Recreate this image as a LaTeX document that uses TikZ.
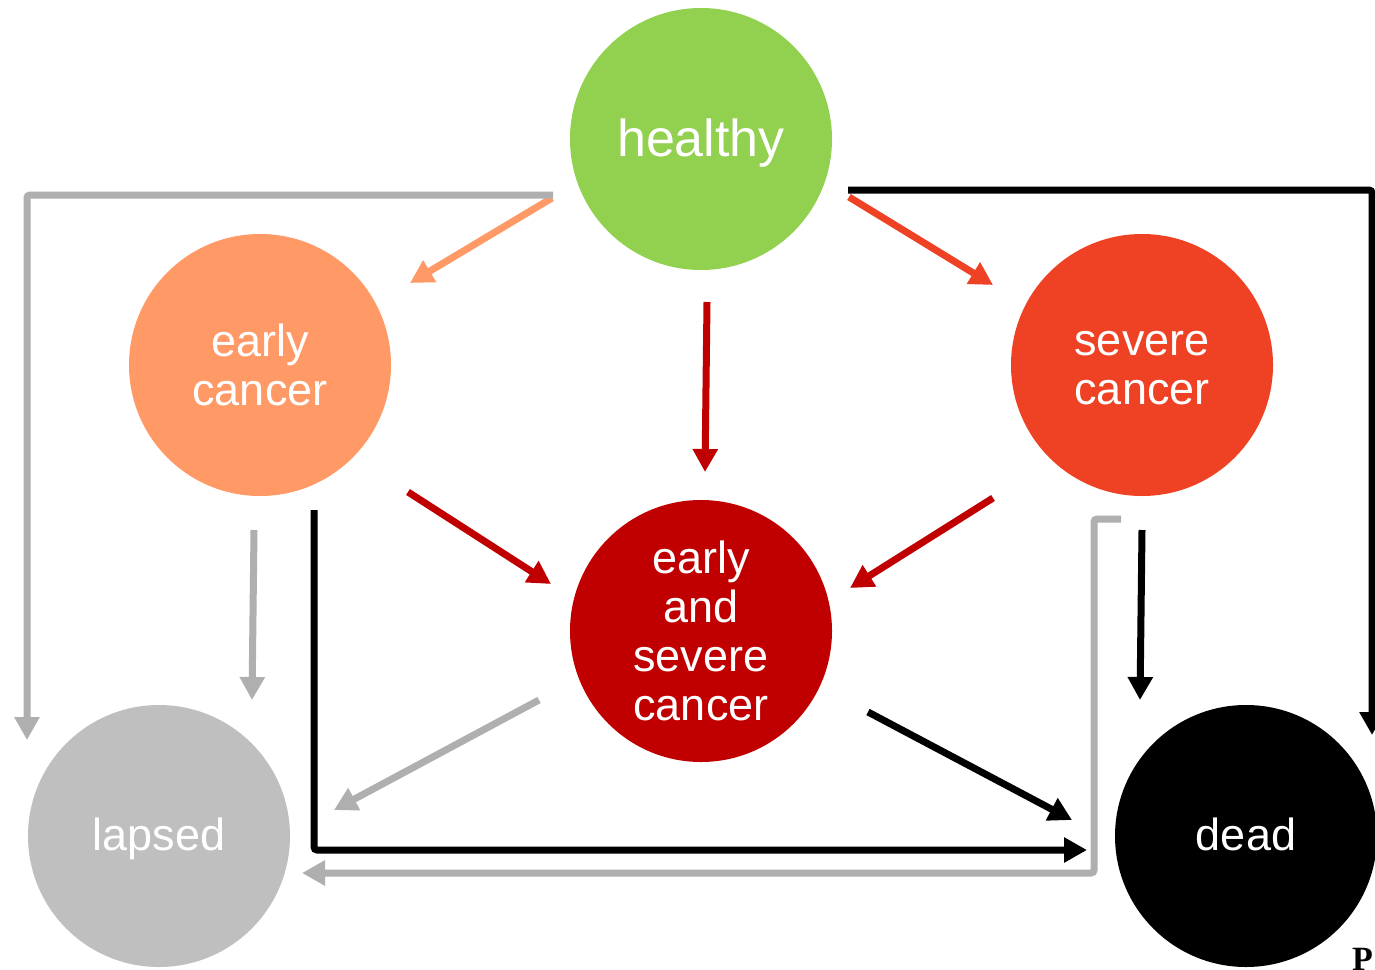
\documentclass[tikz,border=0pt]{standalone}
\usepackage{fontspec}
\setmainfont{Liberation Sans}
\newfontfamily\serifP{Liberation Serif}
\usetikzlibrary{arrows.meta}
\definecolor{cHealthy}{RGB}{146,208,80}
\definecolor{cEarly}{RGB}{255,153,102}
\definecolor{cSevere}{RGB}{239,65,35}
\definecolor{cBoth}{RGB}{192,0,0}
\definecolor{cLapsed}{RGB}{191,191,191}
\definecolor{cGrayArrow}{RGB}{175,175,175}
\begin{document}
\begin{tikzpicture}[x=1pt,y=-1pt,
  state/.style={circle, minimum size=262pt, inner sep=0pt, text=white, align=center,
    font=\fontsize{45}{49}\selectfont},
  arr/.style={line width=7pt, -{Triangle[length=23pt,width=24pt]}, rounded corners=3pt},
]
\useasboundingbox (0,0) rectangle (1375,969);
\fill[white] (0,0) rectangle (1375,969);

\node[state, fill=cHealthy, font=\fontsize{52}{56}\selectfont, text height=46pt, text depth=11pt] (h) at (701,139) {healthy};
\node[state, fill=cEarly] (ec) at (260,365) {early\\cancer};
\node[state, fill=cSevere, text height=79.5pt] (sc) at (1142,365) {severe\\cancer};
\node[state, fill=cBoth] (es) at (701,631) {early\\and\\severe\\cancer};
\node[state, fill=cLapsed, text height=39pt, text depth=9.5pt] (la) at (159,836) {lapsed};
\node[state, fill=black, text height=33pt, text depth=4pt] (d) at (1246,836) {dead};
\node[font=\serifP\bfseries\fontsize{34}{34}\selectfont, anchor=north west, inner sep=0pt] (pmark) at (1352,948) {P};

% from healthy
\draw[arr, cEarly] ([shift={(-149,59)}]h.center) -- ([shift={(150,-82)}]ec.center);
\draw[arr, cSevere] ([shift={(148,58)}]h.center) -- ([shift={(-149,-80)}]sc.center);
\draw[arr, cBoth] ([shift={(6,163)}]h.center) -- ([shift={(4,-159)}]es.center);
\draw[arr, cGrayArrow] ([shift={(-148,56)}]h.center) -| ([shift={(-132,-96)}]la.center);
\draw[arr, black] ([shift={(147,51)}]h.center) -| ([shift={(126,-101)}]d.center);

% from early cancer
\draw[arr, cBoth] ([shift={(148,127)}]ec.center) -- ([shift={(-150,-47)}]es.center);
\draw[arr, cGrayArrow] ([shift={(-6,165)}]ec.center) -- ([shift={(93,-136)}]la.center);
\draw[arr, black] ([shift={(54,145)}]ec.center) |- ([shift={(-159,14)}]d.center);

% from severe cancer
\draw[arr, cBoth] ([shift={(-149,133)}]sc.center) -- ([shift={(149,-43)}]es.center);
\draw[arr, black] ([shift={(0,165)}]sc.center) -- ([shift={(-106,-136)}]d.center);
\draw[arr, cGrayArrow] ([shift={(-21,154)}]sc.center) -- ++(-27,0) |- ([shift={(143,37)}]la.center);

% from early and severe cancer
\draw[arr, cGrayArrow] ([shift={(-162,69)}]es.center) -- ([shift={(175,-26)}]la.center);
\draw[arr, black] ([shift={(167,81)}]es.center) -- ([shift={(-174,-16)}]d.center);
\end{tikzpicture}
\end{document}
